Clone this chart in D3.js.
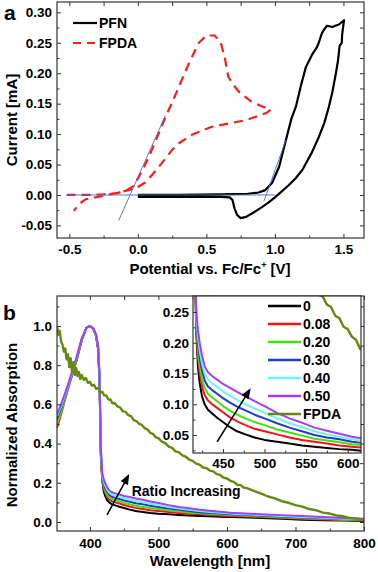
<!DOCTYPE html>
<meta charset="utf-8">
<script src="https://cdn.jsdelivr.net/npm/d3@7"></script>
<style>
body { margin: 0; background: #fff; }
svg text { font-family: Arial, "Liberation Sans", sans-serif; font-weight: bold; fill: #000; }
.axis text { font-size: 13.5px; }
.axis line { stroke: #333; }
</style>
<body>
<script>

// ---------- panel a : cyclic voltammetry ----------
var pfnV = [0.0, 0.3, 0.6, 0.8, 0.88, 0.93, 0.98, 1.03, 1.08, 1.12, 1.153, 1.19, 1.226, 1.27, 1.307, 1.32, 1.343, 1.36, 1.38, 1.42, 1.44, 1.467, 1.504,
            1.49, 1.488, 1.472, 1.46, 1.445, 1.42, 1.394, 1.36, 1.32, 1.27, 1.2, 1.15, 1.1, 1.05, 1.0, 0.95, 0.905, 0.85, 0.79, 0.75, 0.725, 0.705, 0.69, 0.67, 0.6, 0.3, 0.0]
var pfnI = [0.0, 0.0, 0.001, 0.002, 0.004, 0.008, 0.02, 0.046, 0.09, 0.125, 0.145, 0.18, 0.21, 0.23, 0.243, 0.25, 0.266, 0.272, 0.278, 0.276, 0.278, 0.28, 0.287,
            0.262, 0.25, 0.245, 0.22, 0.2, 0.17, 0.145, 0.118, 0.095, 0.07, 0.041, 0.027, 0.016, 0.006, -0.004, -0.013, -0.02, -0.028, -0.036, -0.038, -0.033, -0.022, -0.008, -0.004, -0.003, -0.003, -0.003]

var fpdaV = [-0.52, -0.45, -0.35, -0.25, -0.15, -0.08, -0.03, 0.0, 0.05, 0.1, 0.15, 0.2, 0.25, 0.3, 0.37, 0.445, 0.5, 0.56, 0.605, 0.635, 0.66, 0.7, 0.735, 0.83, 0.9, 0.97,
             0.94, 0.79, 0.54, 0.395, 0.3, 0.25, 0.153, 0.1, 0.05, 0.0, -0.05, -0.16, -0.285, -0.38, -0.43, -0.467]
var fpdaI = [0.0, 0.0, 0.0, 0.001, 0.003, 0.008, 0.015, 0.027, 0.048, 0.073, 0.1, 0.127, 0.152, 0.178, 0.215, 0.25, 0.262, 0.262, 0.25, 0.225, 0.194, 0.18, 0.17, 0.153, 0.146, 0.14,
             0.135, 0.123, 0.112, 0.099, 0.085, 0.074, 0.046, 0.032, 0.02, 0.013, 0.009, 0.003, -0.003, -0.007, -0.015, -0.026]

// onset construction lines [V, mA]
var onsetLines = [
  [[-0.52, 0.0], [0.0, 0.0]],
  [[-0.14, -0.042], [0.2, 0.13]],
  [[0.0, 0.0], [1.0, 0.0]],
  [[0.92, -0.01], [1.08, 0.09]]
]

var cvTicksX = [-0.5, 0.0, 0.5, 1.0, 1.5]
var cvMinorX = [-0.25, 0.25, 0.75, 1.25]
var cvTicksY = [-0.05, 0.0, 0.05, 0.10, 0.15, 0.20, 0.25, 0.30]
var cvMinorY = [-0.025, 0.025, 0.075, 0.125, 0.175, 0.225, 0.275]

// ---------- panel b : absorption ----------
var absWl = [352, 358, 365, 372, 380, 388, 395, 400, 405, 409, 412, 414,
             416, 418, 420, 422, 425, 428, 432, 437, 443, 450, 458, 467, 477, 488, 500, 515, 530, 545, 560, 575, 590, 605, 620, 650, 680, 710, 740, 770, 800]
var abs000 = [0.52, 0.57, 0.65, 0.73, 0.82, 0.93, 0.99, 1.0, 0.985, 0.95, 0.88, 0.72,
              0.33, 0.215, 0.16, 0.135, 0.112, 0.1, 0.091, 0.085, 0.078, 0.071, 0.063, 0.056, 0.051, 0.046, 0.042, 0.039, 0.036, 0.033, 0.031, 0.029, 0.027, 0.026, 0.024, 0.02, 0.016, 0.012, 0.009, 0.007, 0.005]
var abs008 = [0.48, 0.55, 0.64, 0.725, 0.815, 0.925, 0.99, 1.0, 0.985, 0.95, 0.885, 0.73,
              0.342, 0.224, 0.175, 0.151, 0.128, 0.115, 0.106, 0.1, 0.094, 0.087, 0.079, 0.072, 0.066, 0.06, 0.056, 0.051, 0.046, 0.042, 0.039, 0.036, 0.033, 0.031, 0.029, 0.025, 0.02, 0.016, 0.013, 0.01, 0.008]
var abs020 = [0.5, 0.56, 0.645, 0.73, 0.82, 0.93, 0.99, 1.0, 0.985, 0.952, 0.89, 0.74,
              0.352, 0.23, 0.186, 0.163, 0.14, 0.127, 0.117, 0.111, 0.105, 0.097, 0.09, 0.083, 0.077, 0.071, 0.066, 0.059, 0.054, 0.049, 0.044, 0.041, 0.038, 0.035, 0.033, 0.028, 0.024, 0.019, 0.016, 0.012, 0.01]
var abs030 = [0.53, 0.58, 0.655, 0.735, 0.825, 0.93, 0.99, 1.0, 0.987, 0.953, 0.89, 0.745,
              0.362, 0.237, 0.198, 0.176, 0.154, 0.139, 0.129, 0.123, 0.117, 0.11, 0.103, 0.096, 0.09, 0.083, 0.077, 0.069, 0.062, 0.056, 0.05, 0.046, 0.043, 0.039, 0.037, 0.032, 0.028, 0.023, 0.019, 0.015, 0.013]
var abs040 = [0.54, 0.59, 0.66, 0.74, 0.83, 0.935, 0.99, 1.0, 0.987, 0.955, 0.895, 0.75,
              0.37, 0.243, 0.208, 0.187, 0.165, 0.15, 0.14, 0.134, 0.128, 0.121, 0.114, 0.107, 0.1, 0.093, 0.086, 0.077, 0.069, 0.063, 0.056, 0.051, 0.047, 0.043, 0.04, 0.036, 0.031, 0.026, 0.022, 0.017, 0.015]
var abs050 = [0.55, 0.6, 0.67, 0.745, 0.835, 0.935, 0.992, 1.0, 0.988, 0.957, 0.9, 0.76,
              0.38, 0.25, 0.22, 0.2, 0.178, 0.162, 0.152, 0.146, 0.14, 0.133, 0.127, 0.12, 0.113, 0.105, 0.097, 0.086, 0.077, 0.07, 0.062, 0.057, 0.052, 0.047, 0.044, 0.04, 0.035, 0.03, 0.025, 0.02, 0.017]

var fpdaWl = [352, 354, 356, 358, 360, 362, 364, 366, 368, 370, 372, 374, 376, 378, 380, 382, 384, 386, 388, 391, 394, 397, 400, 403, 406, 409, 412, 415, 418, 421, 424, 427, 430, 433, 436,
              440, 444, 448, 452, 456, 460, 464, 468, 472, 476, 480, 484, 488, 492, 496, 500, 505, 510, 515, 520, 525, 530, 535, 540, 545, 550, 555, 560, 565, 570, 575, 580, 585, 590, 595,
              600, 605, 610, 615, 620, 625, 630, 640, 650, 660, 670, 680, 690, 700, 710, 720, 730, 740, 750, 760, 770, 780, 790, 800]
var fpdaAbs = [1.0, 0.955, 0.975, 0.92, 0.905, 0.87, 0.885, 0.83, 0.855, 0.79, 0.835, 0.765, 0.815, 0.75, 0.785, 0.745, 0.765, 0.73, 0.75, 0.725, 0.735, 0.71, 0.715, 0.695, 0.7, 0.68, 0.685, 0.66, 0.665, 0.645, 0.645, 0.625, 0.625, 0.605, 0.607,
               0.59, 0.585, 0.565, 0.562, 0.545, 0.54, 0.52, 0.515, 0.5, 0.495, 0.478, 0.472, 0.455, 0.45, 0.433, 0.428, 0.41, 0.402, 0.385, 0.378, 0.36, 0.355, 0.34, 0.333, 0.318, 0.312, 0.298, 0.293, 0.278, 0.275, 0.262, 0.258, 0.244, 0.24, 0.226,
               0.222, 0.21, 0.205, 0.19, 0.188, 0.175, 0.172, 0.158, 0.145, 0.13, 0.12, 0.106, 0.098, 0.086, 0.078, 0.066, 0.06, 0.048, 0.043, 0.033, 0.029, 0.02, 0.017, 0.01]

var ratioLabels = ["0", "0.08", "0.20", "0.30", "0.40", "0.50", "FPDA"]
var ratioColors = ["#000000", "#ff1010", "#44e010", "#1f3cd0", "#6af5ea", "#a63cff", "#668a10"]

var absTicksX = [400, 500, 600, 700, 800]
var absMinorX = [450, 550, 650, 750]
var absTicksY = [0.0, 0.2, 0.4, 0.6, 0.8, 1.0]
var absMinorY = [0.1, 0.3, 0.5, 0.7, 0.9, 1.1]
var insTicksX = [450, 500, 550, 600]
var insMinorX = [425, 475, 525, 575]
var insTicksY = [0.05, 0.10, 0.15, 0.20, 0.25]
var insMinorY = [0.025, 0.075, 0.125, 0.175, 0.225]

// annotations in data units
var mainArrow = [[425, 0.036], [456, 0.235]]
var mainArrowText = [461, 0.133]
var insetArrow = [[443, 0.039], [482, 0.123]]

var width = 378, height = 572

var svg = d3.select("body").append("svg")
            .attr("width", width)
            .attr("height", height)

var defs = svg.append("defs")
defs.append("marker").attr("id", "arr")
    .attr("viewBox", "0 0 10 10").attr("refX", 8).attr("refY", 5)
    .attr("markerWidth", 7).attr("markerHeight", 7).attr("orient", "auto")
    .append("path").attr("d", "M0,1 L10,5 L0,9 Z").attr("fill", "#000")

function axes(g, x, y, tx, mx, ty, my, fx, fy, pad) {
  var x0 = x.range()[0], x1 = x.range()[1], y0 = y.range()[0], y1 = y.range()[1]
  g.append("g").attr("class", "axis").attr("transform", "translate(0," + y0 + ")")
   .call(d3.axisBottom(x).tickValues(tx).tickFormat(fx).tickSizeInner(-4).tickSizeOuter(0).tickPadding(pad[0]))
  g.append("g").attr("class", "axis").attr("transform", "translate(0," + y0 + ")")
   .call(d3.axisBottom(x).tickValues(mx).tickFormat("").tickSizeInner(-2.5).tickSizeOuter(0))
  g.append("g").attr("class", "axis").attr("transform", "translate(" + x0 + ",0)")
   .call(d3.axisLeft(y).tickValues(ty).tickFormat(fy).tickSizeInner(-4).tickSizeOuter(0).tickPadding(pad[1]))
  g.append("g").attr("class", "axis").attr("transform", "translate(" + x0 + ",0)")
   .call(d3.axisLeft(y).tickValues(my).tickFormat("").tickSizeInner(-2.5).tickSizeOuter(0))
  if (pad[2]) {
    g.append("g").attr("class", "axis").attr("transform", "translate(0," + y1 + ")")
     .call(d3.axisTop(x).tickValues(tx.concat(mx)).tickFormat("").tickSizeInner(-4).tickSizeOuter(0))
    g.append("g").attr("class", "axis").attr("transform", "translate(" + x1 + ",0)")
     .call(d3.axisRight(y).tickValues(ty.concat(my)).tickFormat("").tickSizeInner(-4).tickSizeOuter(0))
  }
  g.selectAll(".axis").attr("font-family", null).attr("font-size", null)
  g.selectAll(".axis .domain").remove()
  g.append("rect").attr("x", x0).attr("y", y1).attr("width", x1 - x0).attr("height", y0 - y1)
   .attr("fill", "none").attr("stroke", "#333").attr("stroke-width", 1.2)
}

// ================= panel a =================
var xa = d3.scaleLinear().domain([-0.59, 1.65]).range([57, 364])
var ya = d3.scaleLinear().domain([-0.0707, 0.317]).range([238, 2])

var ga = svg.append("g")
defs.append("clipPath").attr("id", "clipA").append("rect")
    .attr("x", 57).attr("y", 2).attr("width", 307).attr("height", 236)
var pa = ga.append("g").attr("clip-path", "url(#clipA)")

var cvLine = d3.line().x(function(d) { return xa(d[0]) }).y(function(d) { return ya(d[1]) })

pa.append("path").attr("d", cvLine(d3.zip(pfnV, pfnI)))
  .attr("fill", "none").attr("stroke", "#000").attr("stroke-width", 2.2).attr("stroke-linejoin", "round")
pa.append("path").attr("d", cvLine(d3.zip(fpdaV, fpdaI)))
  .attr("fill", "none").attr("stroke", "#ff1a1a").attr("stroke-width", 2.2).attr("stroke-dasharray", "9,6")
pa.selectAll(".onset").data(onsetLines).enter().append("path")
  .attr("d", cvLine).attr("fill", "none").attr("stroke", "#4a64d8").attr("stroke-width", 0.9)

axes(ga, xa, ya, cvTicksX, cvMinorX, cvTicksY, cvMinorY,
     function(d) { return d.toFixed(1) }, function(d) { return d.toFixed(2) }, [6, 5, true])

// legend a
var lega = ga.append("g")
lega.append("line").attr("x1", 73).attr("x2", 97).attr("y1", 23).attr("y2", 23)
    .attr("stroke", "#000").attr("stroke-width", 2.2)
lega.append("text").attr("x", 99).attr("y", 28).style("font-size", "14px").text("PFN")
lega.append("line").attr("x1", 73).attr("x2", 97).attr("y1", 43).attr("y2", 43)
    .attr("stroke", "#ff1a1a").attr("stroke-width", 2.2).attr("stroke-dasharray", "8,6")
lega.append("text").attr("x", 99).attr("y", 48).style("font-size", "14px").text("FPDA")

svg.append("text").attr("x", 4).attr("y", 20).style("font-size", "21px").text("a")

svg.append("text")
   .attr("transform", "translate(17," + 120 + ") rotate(-90)")
   .style("text-anchor", "middle").style("font-size", "15px")
   .text("Current [mA]")

var xta = svg.append("text").attr("x", 210).attr("y", 274)
   .style("text-anchor", "middle").style("font-size", "15px")
xta.append("tspan").text("Potential vs. Fc/Fc")
xta.append("tspan").attr("dy", -6).style("font-size", "9px").text("+")
xta.append("tspan").attr("dy", 6).text(" [V]")

// ================= panel b =================
var xb = d3.scaleLinear().domain([352, 800]).range([57, 364])
var yb = d3.scaleLinear().domain([-0.046, 1.153]).range([531, 296])

var absSeries = [abs000, abs008, abs020, abs030, abs040, abs050]

var gb = svg.append("g")
defs.append("clipPath").attr("id", "clipB").append("rect")
    .attr("x", 57).attr("y", 296).attr("width", 307).attr("height", 235)
var pb = gb.append("g").attr("clip-path", "url(#clipB)")

var lineB = d3.line().x(function(d) { return xb(d[0]) }).y(function(d) { return yb(d[1]) })

absSeries.forEach(function(s, i) {
  pb.append("path").attr("d", lineB(d3.zip(absWl, s)))
    .attr("fill", "none").attr("stroke", ratioColors[i]).attr("stroke-width", 2).attr("stroke-linejoin", "round")
})
pb.append("path").attr("d", lineB(d3.zip(fpdaWl, fpdaAbs)))
  .attr("fill", "none").attr("stroke", ratioColors[6]).attr("stroke-width", 2.4).attr("stroke-linejoin", "round")

axes(gb, xb, yb, absTicksX, absMinorX, absTicksY, absMinorY,
     function(d) { return d }, function(d) { return d.toFixed(1) }, [7, 5, true])

pb.append("path").attr("d", lineB(mainArrow))
  .attr("stroke", "#000").attr("stroke-width", 1.5).attr("marker-end", "url(#arr)")
gb.append("text").attr("x", xb(mainArrowText[0])).attr("y", yb(mainArrowText[1]))
  .style("font-size", "14px").text("Ratio Increasing")

svg.append("text").attr("x", 3).attr("y", 320).style("font-size", "21px").text("b")

svg.append("text")
   .attr("transform", "translate(17," + 425 + ") rotate(-90)")
   .style("text-anchor", "middle").style("font-size", "15px")
   .text("Normalized Absorption")
svg.append("text").attr("x", 210).attr("y", 566)
   .style("text-anchor", "middle").style("font-size", "15px")
   .text("Wavelength [nm]")

// ---- inset ----
var xi = d3.scaleLinear().domain([414, 616]).range([193, 361])
var yi = d3.scaleLinear().domain([0.0207, 0.276]).range([453, 296])

var gi = svg.append("g")
gi.append("rect").attr("x", 193).attr("y", 296).attr("width", 168).attr("height", 157).attr("fill", "#fff")
defs.append("clipPath").attr("id", "clipI").append("rect")
    .attr("x", 193).attr("y", 296).attr("width", 168).attr("height", 157)
var pi = gi.append("g").attr("clip-path", "url(#clipI)")
var lineI = d3.line().x(function(d) { return xi(d[0]) }).y(function(d) { return yi(d[1]) })

absSeries.forEach(function(s, i) {
  pi.append("path").attr("d", lineI(d3.zip(absWl, s)))
    .attr("fill", "none").attr("stroke", ratioColors[i]).attr("stroke-width", 2).attr("stroke-linejoin", "round")
})
pi.append("path").attr("d", lineI(d3.zip(fpdaWl, fpdaAbs)))
  .attr("fill", "none").attr("stroke", ratioColors[6]).attr("stroke-width", 2.4)

pi.append("path").attr("d", lineI(insetArrow))
  .attr("stroke", "#000").attr("stroke-width", 1.5).attr("marker-end", "url(#arr)")

axes(gi, xi, yi, insTicksX, insMinorX, insTicksY, insMinorY,
     function(d) { return d }, function(d) { return d.toFixed(2) }, [5, 4, false])

// inset legend
var legi = gi.append("g")
ratioLabels.forEach(function(t, i) {
  var yy = 306 + i * 18
  legi.append("line").attr("x1", 268).attr("x2", 301).attr("y1", yy).attr("y2", yy)
      .attr("stroke", ratioColors[i]).attr("stroke-width", 2.4)
  legi.append("text").attr("x", 303).attr("y", yy + 5).style("font-size", "14px").text(t)
})

</script>
</body>
